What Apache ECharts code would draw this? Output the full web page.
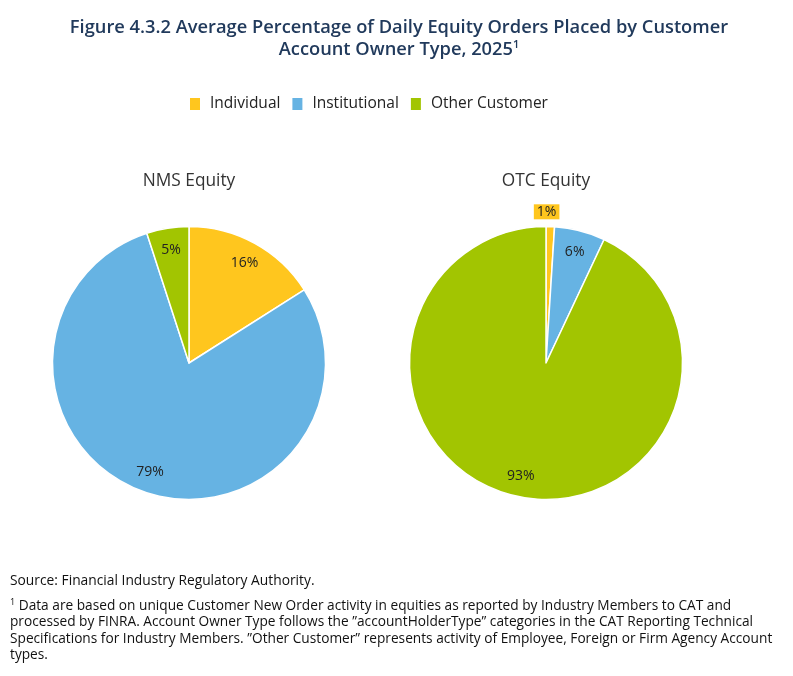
<!DOCTYPE html>
<html>
<head>
<meta charset="utf-8">
<script src="https://cdn.jsdelivr.net/npm/echarts@6/dist/echarts.min.js"></script>
<style>
  html, body { margin: 0; padding: 0; background: #fff; }
  #chart { width: 793px; height: 676px; }
</style>
</head>
<body>
<div id="chart"></div>
<script>
// 数据
const categories = ['Individual', 'Institutional', 'Other Customer'];
const colors = ['#FFC61E', '#66B3E3', '#A2C501'];
const nmsValues = [16, 79, 5];
const otcValues = [1, 6, 93];
const pieTitles = ['NMS Equity', 'OTC Equity'];

const font = '"Open Sans", "Noto Sans", sans-serif';
const centers = [[189, 363], [546, 363]];
const R = 136.5;

function toData(values) {
  return values.map((v, i) => ({ name: categories[i], value: v }));
}

// 扇形本体
function pieSeries(values, center) {
  return {
    type: 'pie',
    center: center,
    radius: [0, R],
    startAngle: 90,
    clockwise: true,
    silent: true,
    label: { show: false },
    labelLine: { show: false },
    itemStyle: { borderColor: '#fff', borderWidth: 1.5 },
    data: toData(values),
  };
}

// 标签层（透明环，用来把标签放在外圈）
function labelSeries(values, center, smallIdx) {
  const data = toData(values).map((d, i) => {
    if (i === smallIdx) {
      d.label = {
        backgroundColor: '#FFC61E',
        padding: [1, 3, 0, 3],
      };
    }
    return d;
  });
  return {
    type: 'pie',
    center: center,
    radius: [88, R],
    startAngle: 90,
    clockwise: true,
    silent: true,
    itemStyle: { color: 'rgba(0,0,0,0)' },
    label: {
      show: true,
      position: 'inside',
      formatter: '{c}%',
      fontFamily: font,
      fontSize: 14,
      color: '#222',
    },
    labelLine: { show: false },
    labelLayout: function (p) {
      if (p.dataIndex === smallIdx) return { dy: -36, dx: -3 };
      return { dy: 1 };
    },
    data: data,
  };
}

const chart = echarts.init(document.getElementById('chart'));
chart.setOption({
  color: colors,
  animation: false,
  title: [
    {
      text: 'Figure 4.3.2 Average Percentage of Daily Equity Orders Placed by Customer\nAccount Owner Type, 2025{sup|1}',
      left: 399,
      textAlign: 'center',
      top: 17,
      padding: 0,
      textStyle: {
        fontFamily: font,
        fontSize: 18.3,
        fontWeight: 600,
        color: '#213A5C',
        lineHeight: 22,
        rich: {
          sup: { fontSize: 11, fontWeight: 600, color: '#213A5C', verticalAlign: 'top', lineHeight: 15, fontFamily: font },
        },
      },
    },
    {
      text: pieTitles[0],
      left: centers[0][0],
      textAlign: 'center',
      top: 173,
      padding: 0,
      textStyle: { fontFamily: font, fontSize: 17.3, fontWeight: 400, color: '#333' },
    },
    {
      text: pieTitles[1],
      left: centers[1][0],
      textAlign: 'center',
      top: 173,
      padding: 0,
      textStyle: { fontFamily: font, fontSize: 17.3, fontWeight: 400, color: '#333' },
    },
    {
      text: 'Source: Financial Industry Regulatory Authority.',
      left: 10,
      top: 574,
      padding: 0,
      textStyle: { fontFamily: font, fontSize: 13.8, fontWeight: 400, color: '#111' },
    },
    {
      text: '{sup|1} Data are based on unique Customer New Order activity in equities as reported by Industry Members to CAT and\n' +
        'processed by FINRA. Account Owner Type follows the \u201DaccountHolderType\u201D categories in the CAT Reporting Technical\n' +
        'Specifications for Industry Members. \u201DOther Customer\u201D represents activity of Employee, Foreign or Firm Agency Account\n' +
        'types.',
      left: 10,
      top: 598,
      padding: 0,
      textStyle: {
        fontFamily: font,
        fontSize: 13.7,
        fontWeight: 400,
        color: '#111',
        lineHeight: 16.3,
        rich: {
          sup: { fontSize: 9, verticalAlign: 'top', lineHeight: 12, color: '#111', fontFamily: font },
        },
      },
    },
  ],
  legend: {
    data: categories,
    left: 188,
    top: 96,
    icon: 'rect',
    itemWidth: 12,
    itemHeight: 14,
    itemGap: 10,
    padding: 0,
    selectedMode: false,
    textStyle: { fontFamily: font, fontSize: 15.5, color: '#222', padding: [0, 0, 0, 4] },
  },
  series: [
    pieSeries(nmsValues, centers[0]),
    pieSeries(otcValues, centers[1]),
    labelSeries(nmsValues, centers[0], -1),
    labelSeries(otcValues, centers[1], 0),
  ],
});
</script>
</body>
</html>
